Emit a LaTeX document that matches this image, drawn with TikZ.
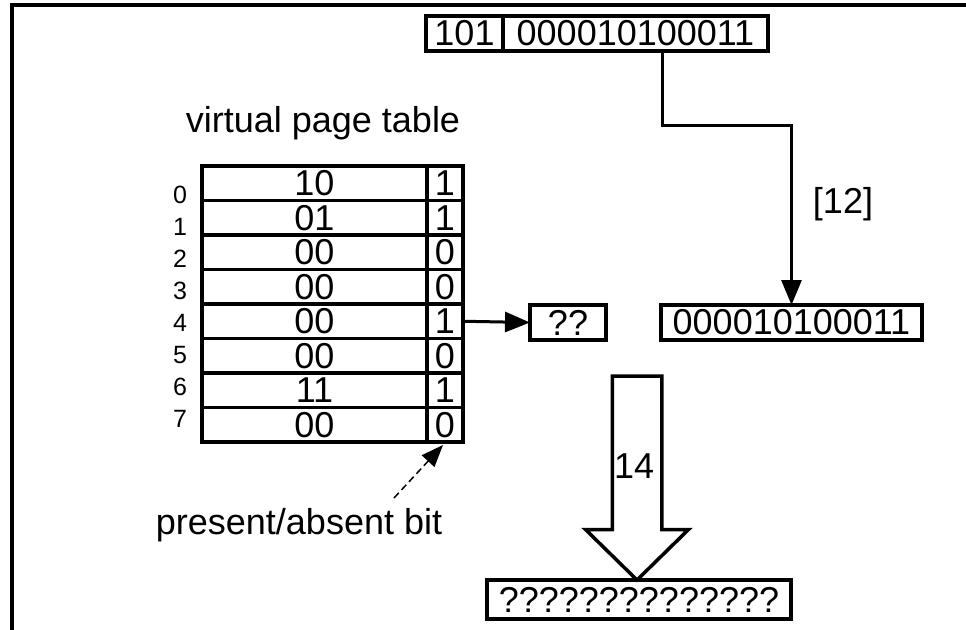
\documentclass[tikz,border=0pt]{standalone}
\usepackage{fontspec}
\setmainfont{Liberation Sans}
\usetikzlibrary{arrows.meta,calc}
\begin{document}
\begin{tikzpicture}[x=1pt,y=-1pt,
  big/.style={font=\fontsize{36}{43}\selectfont},
  small/.style={font=\fontsize{25}{30}\selectfont},
  cell/.style={draw,line width=3.5pt,inner sep=0pt,outer sep=0pt,big},
  conn/.style={line width=3pt,-{Triangle[length=25pt,width=20pt]}},
  hint/.style={line width=1.5pt,dash pattern=on 7pt off 4pt,-{Triangle[length=22pt,width=17pt]}},
  lbl/.style={inner sep=0pt,outer sep=0pt}
]
\useasboundingbox (0,0) rectangle (966,629);
% frame
\draw[line width=4pt] (12,640) -- (12,5) -- (975,5);
% top address
\node[cell,minimum width=77pt,minimum height=35pt] (top1) at (464.5,33.5) {101};
\node[cell,minimum width=265pt,minimum height=35pt] (top2) at (635.5,33.5) {000010100011};
% title
\node[lbl,big,anchor=base] (title) at (323,132) {virtual page table};
% table
\foreach \v/\b [count=\i from 0] in {10/1,01/1,00/0,00/0,00/1,00/0,11/1,00/0}{
  \node[cell,minimum width=225pt,minimum height=34.5pt] (v\i) at (314.5,{183.25+34.5*\i}) {\v};
  \node[cell,minimum width=36pt,minimum height=34.5pt] (b\i) at (445,{183.25+34.5*\i}) {\b};
  \node[lbl,small,anchor=base] (l\i) at (180,{203+32*\i}) {\i};
}
% boxes
\node[cell,minimum width=76pt,minimum height=35pt] (q) at (568,322.5) {??};
\node[cell,minimum width=261pt,minimum height=35pt] (r) at (791.5,322.5) {000010100011};
\node[cell,minimum width=304pt,minimum height=39pt] (bot) at (639,599.5) {??????????????};
% connectors
\draw[conn] (b4.east) -- (q.west);
\coordinate (s) at (662,51);
\draw[conn] (s) -- ++(0,74) -| (r.north);
\node[lbl,big] (n12) at (843,204) {[12]};
% big hollow arrow
\coordinate (tip) at ($(bot.north)+(-2,0)$);
\draw[line width=3.5pt,fill=white,line join=miter] (tip) -- ++(-51.5,-50.5) -- ++(26.75,0) -- ++(0,-153.5) -- ++(49.5,0) -- ++(0,153.5) -- ++(26.75,0) -- cycle;
\node[lbl,big,anchor=west] (n14) at (614,466) {14};
% present/absent bit
\node[lbl,big,anchor=base] (pab) at (299,534) {present/absent bit};
\coordinate (d) at (394,498);
\draw[hint] (d) -- ($(b7.south)+(-2,3)$);
\end{tikzpicture}
\end{document}
